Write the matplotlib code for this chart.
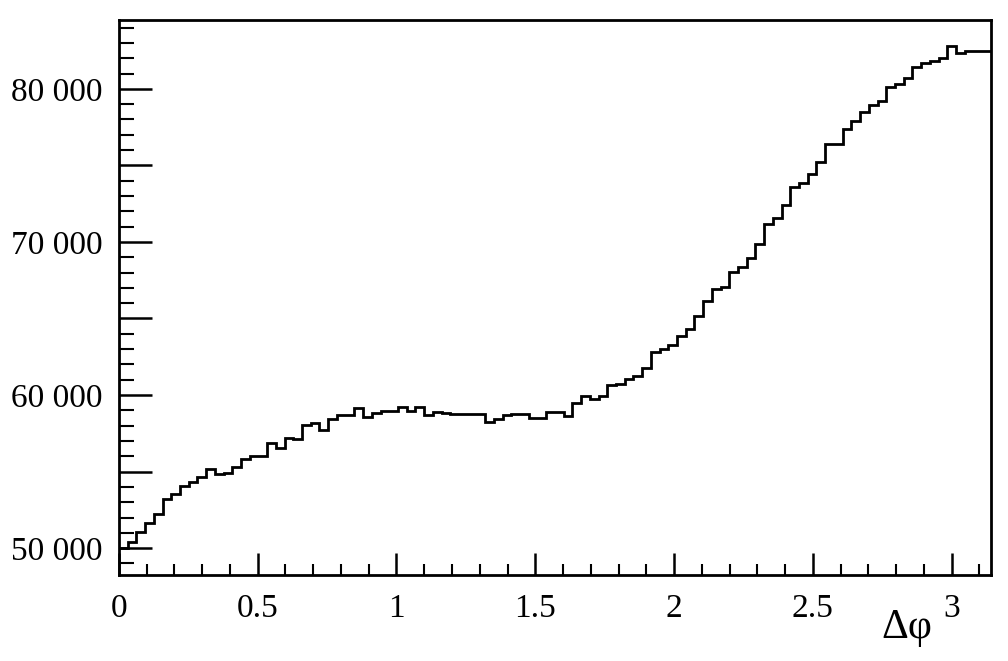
import numpy as np
import matplotlib
matplotlib.use('Agg')
import matplotlib.pyplot as plt
from matplotlib.ticker import MultipleLocator, FuncFormatter

#-------------------------------
# histogram data: 100 bins of delta phi between 0 and pi

n_bins = 100
phi_min = 0.0
phi_max = np.pi

counts = [
    50020, 50420, 51050, 51650, 52210, 53210, 53510, 54050, 54330, 54640,
    55150, 54840, 54920, 55290, 55810, 56050, 56050, 56890, 56560, 57210,
    57100, 58060, 58170, 57710, 58410, 58720, 58720, 59150, 58550, 58800,
    58970, 58970, 59220, 58960, 59200, 58690, 58880, 58800, 58780, 58740,
    58770, 58750, 58260, 58450, 58700, 58780, 58780, 58530, 58530, 58860,
    58860, 58600, 59460, 59940, 59740, 59920, 60630, 60720, 61030, 61240,
    61760, 62780, 63020, 63270, 63860, 64310, 65160, 66150, 66900, 67080,
    68020, 68390, 68960, 69860, 71150, 71590, 72400, 73570, 73880, 74450,
    75200, 76400, 76410, 77380, 77900, 78480, 78950, 79240, 80150, 80300,
    80700, 81440, 81680, 81850, 82010, 82770, 82330, 82500, 82500, 82500,
]

x_label = '\u0394\u03c6'

#-------------------------------
# plotting in a ROOT-like style

plt.rcParams['font.family'] = ['Liberation Serif', 'DejaVu Serif']

fig = plt.figure(figsize=(10.08, 6.61), dpi=100)
ax = fig.add_axes([0.118, 0.130, 0.865, 0.840])

edges = np.linspace(phi_min, phi_max, n_bins + 1)
ax.stairs(counts, edges, baseline=None, color='black', linewidth=2.0)

ax.set_xlim(phi_min, phi_max)
ax.set_ylim(48240, 84510)

# ticks inside the frame, only bottom and left
ax.xaxis.set_major_locator(MultipleLocator(0.5))
ax.xaxis.set_minor_locator(MultipleLocator(0.1))
ax.yaxis.set_major_locator(MultipleLocator(5000))
ax.yaxis.set_minor_locator(MultipleLocator(1000))

ax.xaxis.set_major_formatter(FuncFormatter(lambda v, p: '%g' % v))
ax.yaxis.set_major_formatter(FuncFormatter(
    lambda v, p: '{:,}'.format(int(round(v))).replace(',', ' ') if int(round(v)) % 10000 == 0 else ''))

ax.tick_params(axis='x', which='major', direction='in', length=16, width=1.8,
               labelsize=24, pad=13, top=False)
ax.tick_params(axis='x', which='minor', direction='in', length=8, width=1.5, top=False)
ax.tick_params(axis='y', which='major', direction='in', length=24, width=1.8,
               labelsize=24, pad=12, right=False)
ax.tick_params(axis='y', which='minor', direction='in', length=11, width=1.5, right=False)

for s in ax.spines.values():
    s.set_linewidth(2.0)

fig.text(0.900, 0.050, x_label, fontsize=30, ha='center', va='center')

plt.savefig('out.png', dpi=100)
